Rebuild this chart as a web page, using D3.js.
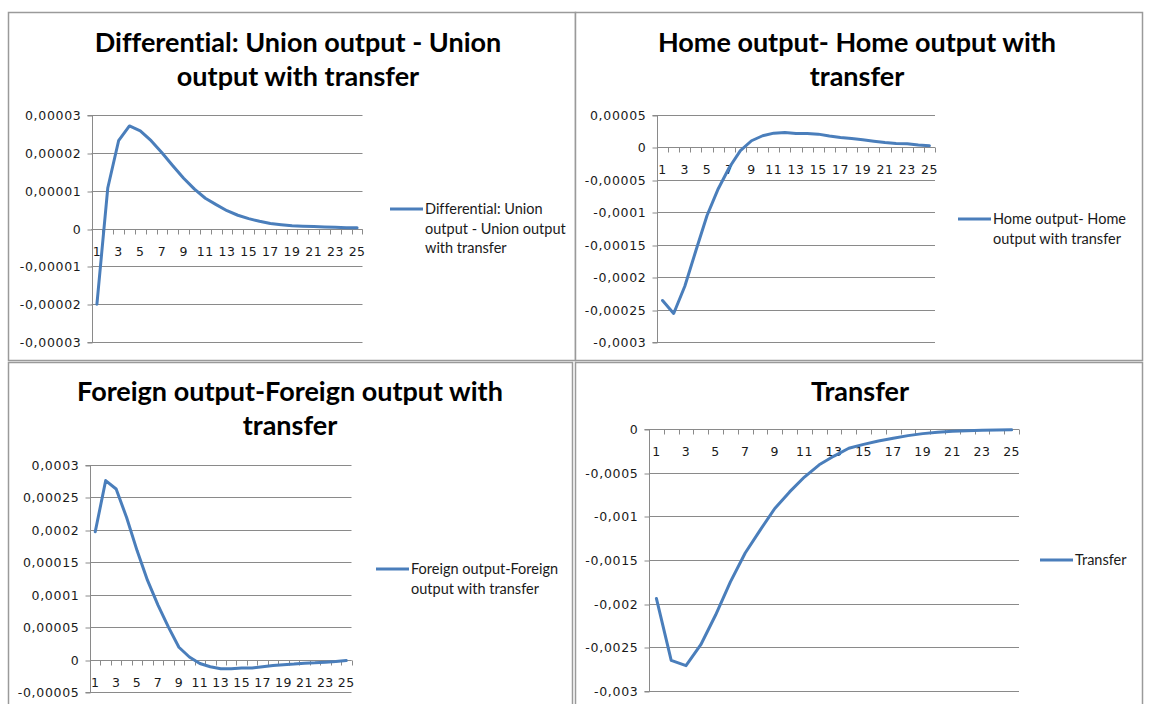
<!DOCTYPE html>
<html>
<head>
<meta charset="utf-8">
<script src="https://cdn.jsdelivr.net/npm/d3@7/dist/d3.min.js"></script>
<style>
html,body{margin:0;padding:0;background:#fff;}
svg{display:block;}
text{font-variant-ligatures:none;font-feature-settings:"liga" 0;}
</style>
</head>
<body>
<svg id="chart" width="1150" height="704"></svg>
<script>
// ---------------- DATA ----------------
const categories = [1,2,3,4,5,6,7,8,9,10,11,12,13,14,15,16,17,18,19,20,21,22,23,24,25];
const xTickLabels = ["1","3","5","7","9","11","13","15","17","19","21","23","25"];

const unionDiff = [-0.0000200, 0.0000107, 0.0000232, 0.0000271, 0.0000258, 0.0000232, 0.0000200, 0.0000166,
  0.0000133, 0.0000104, 0.0000080, 0.0000063, 0.0000047, 0.0000035, 0.0000026, 0.0000019, 0.0000013,
  0.0000010, 0.0000007, 0.0000006, 0.0000005, 0.0000004, 0.0000003, 0.0000002, 0.0000002];

const homeDiff = [-0.000236, -0.000256, -0.000214, -0.000159, -0.000105, -0.000064, -0.000031, -0.000005,
  0.0000103, 0.000018, 0.000022, 0.000023, 0.0000215, 0.0000215, 0.0000205, 0.0000175, 0.0000154,
  0.0000138, 0.0000118, 0.0000097, 0.0000077, 0.0000062, 0.0000056, 0.0000036, 0.0000026];

const foreignDiff = [0.000197, 0.000276, 0.000263, 0.000219, 0.000168, 0.000122, 0.000084, 0.000050,
  0.000019, 0.000004, -0.000006, -0.000011, -0.000014, -0.000014, -0.000013, -0.000013, -0.000011,
  -0.000009, -0.000008, -0.000007, -0.0000055, -0.000005, -0.000004, -0.000003, -0.0000015];

const transferSeries = [-0.00194, -0.00265, -0.00271, -0.00247, -0.00213, -0.00175, -0.00142, -0.00116,
  -0.00091, -0.00072, -0.00055, -0.00041, -0.00031, -0.00022, -0.000176, -0.000137, -0.000107,
  -0.000076, -0.000053, -0.000038, -0.000027, -0.000019, -0.000015, -0.000011, -0.00001];

const yTicks1 = [-0.00003, -0.00002, -0.00001, 0, 0.00001, 0.00002, 0.00003];
const yLabels1 = ["-0,00003","-0,00002","-0,00001","0","0,00001","0,00002","0,00003"];
const yTicks2 = [-0.0003, -0.00025, -0.0002, -0.00015, -0.0001, -0.00005, 0, 0.00005];
const yLabels2 = ["-0,0003","-0,00025","-0,0002","-0,00015","-0,0001","-0,00005","0","0,00005"];
const yTicks3 = [-0.00005, 0, 0.00005, 0.0001, 0.00015, 0.0002, 0.00025, 0.0003];
const yLabels3 = ["-0,00005","0","0,00005","0,0001","0,00015","0,0002","0,00025","0,0003"];
const yTicks4 = [-0.003, -0.0025, -0.002, -0.0015, -0.001, -0.0005, 0];
const yLabels4 = ["-0,003","-0,0025","-0,002","-0,0015","-0,001","-0,0005","0"];

const titles1 = ["Differential: Union output - Union", "output with transfer"];
const titles2 = ["Home output- Home output with", "transfer"];
const titles3 = ["Foreign output-Foreign output with", "transfer"];
const titles4 = ["Transfer"];

const legend1 = ["Differential: Union", "output - Union output", "with transfer"];
const legend2 = ["Home output- Home", "output with transfer"];
const legend3 = ["Foreign output-Foreign", "output with transfer"];
const legend4 = ["Transfer"];

// ---------------- LAYOUT ----------------
const panels = [
  {box:[8,12,567,348], plotX:[91.5,362.5], plotY:[342,115], values:unionDiff, ticks:yTicks1, labels:yLabels1,
   titles:titles1, titleX:298, titleY:[52,86], legend:legend1, legX:390, legY:209},
  {box:[575,12,567,348], plotX:[657,935], plotY:[342,115], values:homeDiff, ticks:yTicks2, labels:yLabels2,
   titles:titles2, titleX:857, titleY:[52,86], legend:legend2, legX:958, legY:219},
  {box:[8,362,564,380], plotX:[90,351.5], plotY:[692,465], values:foreignDiff, ticks:yTicks3, labels:yLabels3,
   titles:titles3, titleX:290, titleY:[401,435], legend:legend3, legX:376, legY:569},
  {box:[575,362,567,380], plotX:[649,1019], plotY:[691,429], values:transferSeries, ticks:yTicks4, labels:yLabels4,
   titles:titles4, titleX:860, titleY:[401], legend:legend4, legX:1040, legY:560}
];

const svg = d3.select("#chart");
const LINE = "#4a7ebb";
const GRID = "#8a8a8a";

panels.forEach(p => {
  const g = svg.append("g");
  // panel border
  g.append("rect")
    .attr("x", p.box[0]+0.5).attr("y", p.box[1]+0.5)
    .attr("width", p.box[2]).attr("height", p.box[3])
    .attr("fill", "#fff").attr("stroke", "#9a9a9a").attr("stroke-width", 1.5);

  const x = d3.scaleBand().domain(categories).range(p.plotX).padding(0);
  const y = d3.scaleLinear().domain([p.ticks[0], p.ticks[p.ticks.length-1]]).range(p.plotY);

  // gridlines
  g.append("g").selectAll("line").data(p.ticks).join("line")
    .attr("x1", p.plotX[0]).attr("x2", p.plotX[1])
    .attr("y1", d => Math.round(y(d))+0.5).attr("y2", d => Math.round(y(d))+0.5)
    .attr("stroke", GRID).attr("stroke-width", 1);

  // y axis
  const yAxis = d3.axisLeft(y).tickValues(p.ticks).tickSize(5).tickPadding(6)
    .tickFormat((d,i) => p.labels[i]);
  const ya = g.append("g").attr("transform", `translate(${Math.round(p.plotX[0])+0.5},0.5)`).call(yAxis);
  ya.select(".domain").attr("stroke", GRID).attr("d", `M-5,${y(p.ticks[0])}H0V${y(p.ticks[p.ticks.length-1])}H-5`).attr("stroke", GRID);
  ya.selectAll(".tick line").attr("stroke", GRID).attr("transform", d => `translate(0,${Math.round(y(d)) - y(d)})`);
  ya.selectAll(".tick text")
    .attr("fill", "#1a1a1a").attr("font-family", "DejaVu Sans, Verdana, sans-serif")
    .attr("font-size", "12.5px").attr("letter-spacing", "0.7px");

  // x axis at zero
  const y0 = Math.round(y(0)) + 0.5;
  const xa = g.append("g");
  xa.append("line").attr("x1", p.plotX[0]).attr("x2", p.plotX[1]).attr("y1", y0).attr("y2", y0)
    .attr("stroke", GRID);
  const boundaries = categories.map(c => x(c)).concat([x(categories[categories.length-1]) + x.bandwidth()]);
  xa.selectAll("line.tk").data(boundaries).join("line").attr("class","tk")
    .attr("x1", d => Math.round(d)+0.5).attr("x2", d => Math.round(d)+0.5)
    .attr("y1", y0).attr("y2", y0+5).attr("stroke", GRID);
  xa.selectAll("text").data(xTickLabels).join("text")
    .attr("x", d => x(+d) + x.bandwidth()/2)
    .attr("y", y0 + 26)
    .attr("text-anchor", "middle")
    .attr("fill", "#1a1a1a").attr("font-family", "DejaVu Sans, Verdana, sans-serif")
    .attr("font-size", "12.5px").attr("letter-spacing", "0.5px")
    .text(d => d);

  // series line
  const line = d3.line().x((d,i) => x(categories[i]) + x.bandwidth()/2).y(d => y(d)).curve(d3.curveLinear);
  g.append("path").datum(p.values).attr("d", line)
    .attr("fill", "none").attr("stroke", LINE).attr("stroke-width", 3)
    .attr("stroke-linejoin", "round").attr("stroke-linecap", "round");

  // title
  p.titles.forEach((t,i) => {
    g.append("text").attr("x", p.titleX).attr("y", p.titleY[i])
      .attr("text-anchor", "middle").attr("font-family", "Lato, sans-serif")
      .attr("font-weight", "bold").attr("font-size", "27px").attr("fill", "#000")
      .text(t);
  });

  // legend
  g.append("line").attr("x1", p.legX).attr("x2", p.legX+33).attr("y1", p.legY).attr("y2", p.legY)
    .attr("stroke", LINE).attr("stroke-width", 3);
  p.legend.forEach((t,i) => {
    g.append("text").attr("x", p.legX+35).attr("y", p.legY + 5 + i*19.5)
      .attr("font-family", "Lato, sans-serif").attr("font-size", "14.5px").attr("fill", "#1a1a1a")
      .text(t);
  });
});
</script>
</body>
</html>
